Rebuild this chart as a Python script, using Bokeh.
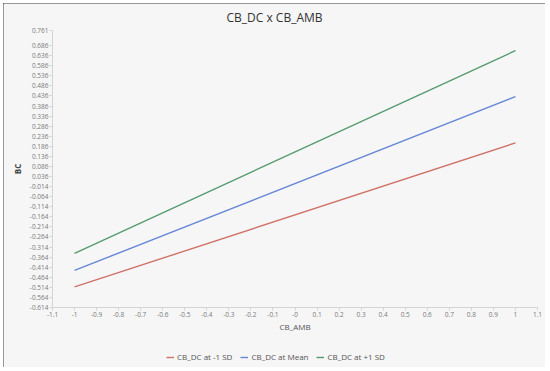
from bokeh.plotting import figure
from bokeh.models import FixedTicker, Legend, LegendItem, Range1d, Label
from bokeh.embed import file_html
from bokeh.resources import INLINE

# ---- data ----
cb_amb = [-1.0, 1.0]
bc_low = [-0.512, 0.203]    # CB_DC at -1 SD
bc_mean = [-0.430, 0.433]   # CB_DC at Mean
bc_high = [-0.345, 0.661]   # CB_DC at +1 SD
series_names = ["CB_DC at -1 SD", "CB_DC at Mean", "CB_DC at +1 SD"]
series_colors = ["#cf7268", "#6686d6", "#559a70"]
title_text = "CB_DC x CB_AMB"

x_ticks = [-1.1, -1.0, -0.9, -0.8, -0.7, -0.6, -0.5, -0.4, -0.3, -0.2, -0.1, 0.0,
           0.1, 0.2, 0.3, 0.4, 0.5, 0.6, 0.7, 0.8, 0.9, 1.0, 1.1]
x_tick_labels = ["-1.1", "-1", "-0.9", "-0.8", "-0.7", "-0.6", "-0.5", "-0.4", "-0.3", "-0.2",
                 "-0.1", "-0", "0.1", "0.2", "0.3", "0.4", "0.5", "0.6", "0.7", "0.8", "0.9",
                 "1", "1.1"]
y_ticks = [-0.614, -0.564, -0.514, -0.464, -0.414, -0.364, -0.314, -0.264, -0.214, -0.164,
           -0.114, -0.064, -0.014, 0.036, 0.086, 0.136, 0.186, 0.236, 0.286, 0.336, 0.386,
           0.436, 0.486, 0.536, 0.586, 0.636, 0.686, 0.761]
y_tick_labels = ["-0.614", "-0.564", "-0.514", "-0.464", "-0.414", "-0.364", "-0.314", "-0.264",
                 "-0.214", "-0.164", "-0.114", "-0.064", "-0.014", "0.036", "0.086", "0.136",
                 "0.186", "0.236", "0.286", "0.336", "0.386", "0.436", "0.486", "0.536", "0.586",
                 "0.636", "0.686", "0.761"]

FONT = "Open Sans"
BG = "#f6f6f6"

x_lo, x_hi = x_ticks[0], x_ticks[-1]
y_lo, y_hi = y_ticks[0], y_ticks[-1]
# room around the axes (inside the frame) for labels, title and legend
pad_left, pad_right = 0.2223, 0.0363
pad_top, pad_bottom = 0.1340, 0.2978

W, H = 542, 364
p = figure(width=W, height=H, output_backend="svg", toolbar_location=None,
           x_range=Range1d(x_lo - pad_left, x_hi + pad_right),
           y_range=Range1d(y_lo - pad_bottom, y_hi + pad_top),
           min_border_left=0, min_border_right=0, min_border_top=0, min_border_bottom=0,
           background_fill_color=BG, border_fill_color=BG)
p.styles = {"outline": "2px solid #3a3a3a", "outline-offset": "-2px",
            "margin-left": "3px", "margin-top": "3px"}
p.outline_line_color = None

p.xgrid.visible = False
p.ygrid.visible = False

for ax in (p.xaxis[0], p.yaxis[0]):
    ax.axis_line_color = "#d4d4d4"
    ax.major_tick_line_color = "#d4d4d4"
    ax.minor_tick_line_color = None
    ax.major_tick_in = 0
    ax.major_tick_out = 3
    ax.major_label_text_font = FONT
    ax.major_label_text_font_size = "6.5px"
    ax.major_label_text_color = "#7a7a7a"
    ax.axis_label_text_font = FONT
    ax.axis_label_text_font_size = "8px"
    ax.axis_label_text_color = "#555555"
    ax.major_label_standoff = 1

p.xaxis.ticker = FixedTicker(ticks=x_ticks)
p.xaxis.major_label_overrides = {t: s for t, s in zip(x_ticks, x_tick_labels)}
p.xaxis.fixed_location = y_lo
p.xaxis.bounds = (x_lo, x_hi)
p.yaxis.ticker = FixedTicker(ticks=y_ticks)
p.yaxis.major_label_overrides = {t: s for t, s in zip(y_ticks, y_tick_labels)}
p.yaxis.fixed_location = x_lo
p.yaxis.bounds = (y_lo, y_hi)
p.xaxis.axis_label = "CB_AMB"
p.xaxis.axis_label_standoff = 1
p.xaxis.axis_label_text_font_style = "normal"
p.yaxis.axis_label = "BC"
p.yaxis.axis_label_standoff = 4
p.yaxis.axis_label_text_font_style = "bold"
p.yaxis.axis_label_text_color = "#444444"

renderers = []
for ys, c in zip([bc_low, bc_mean, bc_high], series_colors):
    r = p.line(cb_amb, ys, line_color=c, line_width=1.4)
    renderers.append(r)

# chart title, centred over the whole figure
p.add_layout(Label(x=(x_lo - pad_left + x_hi + pad_right) / 2, y=y_hi + pad_top, y_offset=-14,
                   text=title_text, text_align="center", text_baseline="middle",
                   text_font=FONT, text_font_size="12px", text_color="#333333"))

legend = Legend(items=[LegendItem(label=n, renderers=[r]) for n, r in zip(series_names, renderers)],
                orientation="horizontal", location=(163, 5),
                background_fill_alpha=0, border_line_color=None,
                label_text_font=FONT, label_text_font_size="8px", label_text_color="#555555",
                glyph_width=8, glyph_height=8, label_standoff=3, spacing=8,
                padding=2, margin=0)
p.add_layout(legend, "center")

open("out.html", "w").write(file_html(p, INLINE))
